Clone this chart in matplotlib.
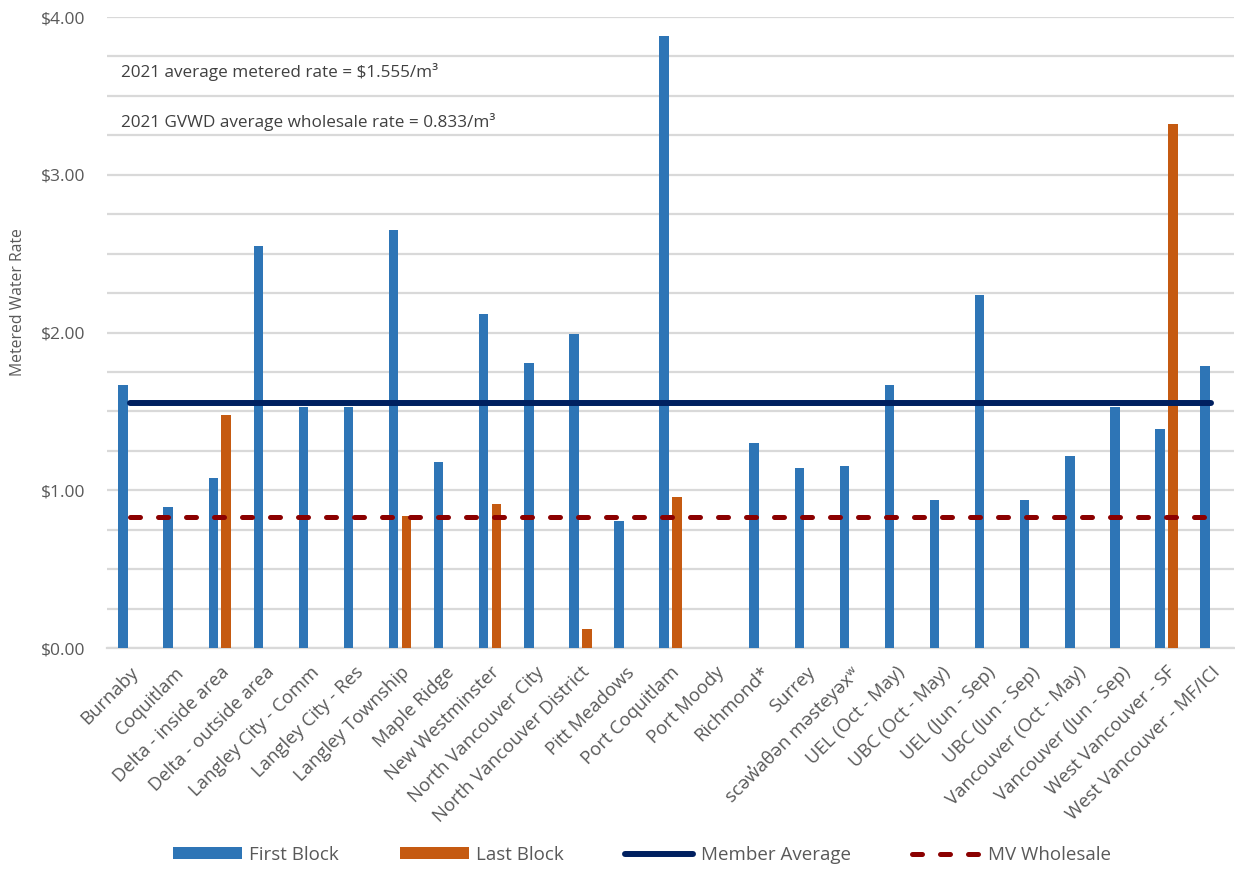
import matplotlib
matplotlib.use("Agg")
import matplotlib.pyplot as plt
import numpy as np
from matplotlib.ticker import MultipleLocator, FuncFormatter
from matplotlib.lines import Line2D
from matplotlib.patches import Patch

plt.rcParams['font.family'] = ['Open Sans', 'DejaVu Sans']

categories = [
    "Burnaby", "Coquitlam", "Delta - inside area", "Delta - outside area",
    "Langley City - Comm", "Langley City - Res", "Langley Township",
    "Maple Ridge", "New Westminster", "North Vancouver City",
    "North Vancouver District", "Pitt Meadows", "Port Coquitlam",
    "Port Moody", "Richmond*", "Surrey", "sc\u0259w\u0313a\u03b8\u0259n m\u0259stey\u0259x\u02b7",
    "UEL (Oct - May)", "UBC (Oct - May)", "UEL (Jun - Sep)", "UBC (Jun - Sep)",
    "Vancouver (Oct - May)", "Vancouver (Jun - Sep)", "West Vancouver - SF",
    "West Vancouver - MF/ICI",
]
first_block = [1.667, 0.892, 1.076, 2.548, 1.528, 1.528, 2.648, 1.179, 2.117,
               1.807, 1.988, 0.807, 3.882, 0.0, 1.300, 1.139, 1.156, 1.665,
               0.936, 2.236, 0.936, 1.219, 1.528, 1.386, 1.788]
last_block = [0.0, 0.0, 1.477, 0.0, 0.0, 0.0, 0.837, 0.0, 0.915, 0.0, 0.118,
              0.0, 0.957, 0.0, 0.0, 0.0, 0.0, 0.0, 0.0, 0.0, 0.0, 0.0, 0.0,
              3.320, 0.0]
member_average = 1.555
mv_wholesale = 0.833

BLUE = "#2E75B6"
ORANGE = "#C55A11"
NAVY = "#002060"
DARKRED = "#8B0000"
GRID = "#D9D9D9"
TXT = "#595959"

AVG_LW = 4.3
WHS_LW = 3.6
WHS_DASH = (2.0, 3.6)

fig = plt.figure(figsize=(12.35, 8.69), dpi=100)
ax = fig.add_axes([107 / 1235, 1 - 648 / 869, 1127 / 1235, (648 - 17) / 869])

x = np.arange(len(categories))
w = 0.21
off = 0.143
ax.bar(x - off, first_block, width=w, color=BLUE, zorder=3)
ax.bar(x + off, last_block, width=w, color=ORANGE, zorder=3)
ax.plot(x, [member_average] * len(x), color=NAVY, lw=AVG_LW,
        solid_capstyle='round', zorder=4)
ax.plot(x, [mv_wholesale] * len(x), color=DARKRED, lw=WHS_LW,
        dashes=WHS_DASH, dash_capstyle='round', zorder=4)

ax.set_xlim(-0.5, len(categories) - 0.5)
ax.set_ylim(0, 4.0)
ax.yaxis.set_major_locator(MultipleLocator(0.25))
ax.yaxis.set_major_formatter(FuncFormatter(
    lambda v, p: f"${v:.2f}" if abs(v - round(v)) < 1e-9 else ""))
ax.grid(axis='y', color=GRID, lw=1.6, zorder=0)
ax.set_axisbelow(True)
for s in ['top', 'right', 'left']:
    ax.spines[s].set_visible(False)
ax.spines['bottom'].set_color(GRID)
ax.spines['bottom'].set_linewidth(1.6)
ax.tick_params(axis='both', length=0, colors=TXT)
ax.tick_params(axis='y', pad=15.5, labelsize=12.5)
ax.set_xticks(x)
ax.set_xticklabels(categories, rotation=45, ha='right',
                   rotation_mode='anchor', fontsize=13.3, color=TXT)
ax.tick_params(axis='x', pad=11)

fig.text(18 / 1235, 1 - 302 / 869, "Metered Water Rate", rotation=90,
         ha='center', va='center', fontsize=11.3, color=TXT)

fig.text(121 / 1235, 1 - 72 / 869, "2021 average metered rate = $1.555/m\u00b3",
         ha='left', va='center', fontsize=12.3, color="#404040")
fig.text(121 / 1235, 1 - 122 / 869,
         "2021 GVWD average wholesale rate = 0.833/m\u00b3",
         ha='left', va='center', fontsize=12.3, color="#404040")

handles = [
    Patch(facecolor=BLUE, label="First Block"),
    Patch(facecolor=ORANGE, label="Last Block"),
    Line2D([0], [0], color=NAVY, lw=AVG_LW, solid_capstyle='round',
           label="Member Average"),
    Line2D([0], [0], color=DARKRED, lw=WHS_LW, dashes=WHS_DASH,
           dash_capstyle='round', label="MV Wholesale"),
]
leg = fig.legend(handles=handles, loc='center', ncol=4,
                 bbox_to_anchor=(642 / 1235, 1 - 855 / 869),
                 frameon=False, fontsize=13.5, handlelength=3.65,
                 handleheight=0.6, handletextpad=0.4, columnspacing=3.25)
for t in leg.get_texts():
    t.set_color(TXT)

fig.savefig("out.png", dpi=100)
